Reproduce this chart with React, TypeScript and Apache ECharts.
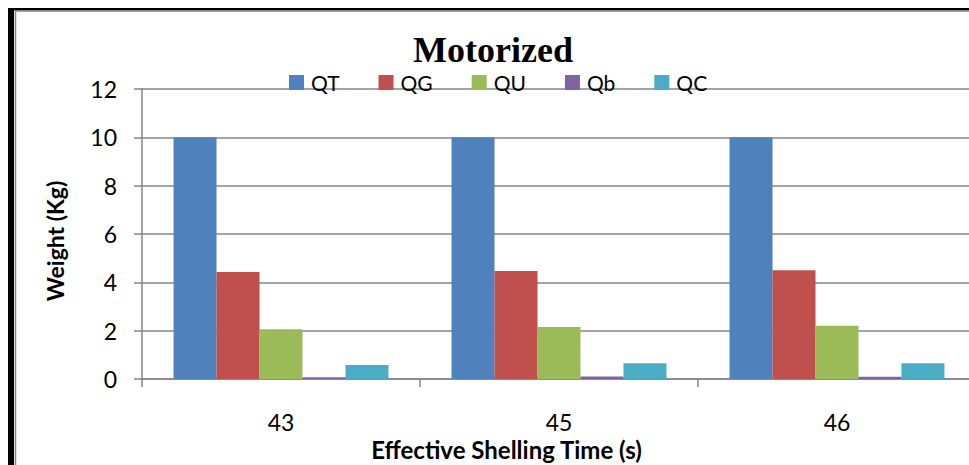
import React, { useEffect, useRef } from "react";
import * as echarts from "echarts";

const categories = ["43", "45", "46"];
const seriesNames = ["QT", "QG", "QU", "Qb", "QC"];
const qtValues = [10, 10, 10];
const qgValues = [4.43, 4.47, 4.5];
const quValues = [2.06, 2.15, 2.2];
const qbValues = [0.07, 0.1, 0.09];
const qcValues = [0.58, 0.65, 0.65];
const colors = ["#4F81BD", "#C0504D", "#9BBB59", "#8064A2", "#4BACC6"];
const yTicks = { min: 0, max: 12, interval: 2 };

const FONT = "Lato, 'Open Sans', sans-serif";

export default function App() {
  const ref = useRef<HTMLDivElement>(null);
  useEffect(() => {
    if (!ref.current) return;
    const chart = echarts.init(ref.current, null, { renderer: "svg" });
    const allValues = [qtValues, qgValues, quValues, qbValues, qcValues];
    chart.setOption({
      animation: false,
      backgroundColor: "#ffffff",
      title: {
        text: "Motorized",
        left: 413,
        top: 32,
        padding: 0,
        textStyle: {
          fontFamily: "'Liberation Serif', 'Times New Roman', serif",
          fontWeight: "bold",
          fontSize: 36,
          color: "#000",
        },
      },
      legend: {
        data: seriesNames,
        left: 289,
        top: 72,
        padding: 0,
        itemWidth: 15,
        itemHeight: 15,
        itemGap: 39,
        icon: "rect",
        textStyle: { fontFamily: FONT, fontSize: 21, color: "#000", padding: [0, 0, 0, 2] },
      },
      grid: {
        left: 142,
        width: 834,
        top: 89,
        height: 290,
        containLabel: false,
        outerBoundsMode: "none",
      },
      xAxis: {
        type: "category",
        data: categories,
        name: "Effective Shelling Time (s)",
        nameLocation: "middle",
        nameGap: 69,
        nameTextStyle: {
          fontFamily: FONT,
          fontWeight: "bold",
          fontSize: 24,
          color: "#000",
          verticalAlign: "middle",
          padding: [0, 105, 0, 0],
        },
        axisLine: { show: true, lineStyle: { color: "#868686", width: 1.5 } },
        axisTick: { show: true, length: 8, alignWithLabel: false, lineStyle: { color: "#868686", width: 1.5 } },
        axisLabel: { fontFamily: FONT, fontSize: 23, color: "#000", margin: 31 },
        splitLine: { show: false },
      },
      yAxis: {
        type: "value",
        min: yTicks.min,
        max: yTicks.max,
        interval: yTicks.interval,
        name: "Weight (Kg)",
        nameLocation: "middle",
        nameGap: 87,
        nameRotate: 90,
        nameTextStyle: {
          fontFamily: FONT,
          fontWeight: "bold",
          fontSize: 23,
          color: "#000",
          verticalAlign: "middle",
          padding: [0, 14, 0, 0],
        },
        axisLine: { show: true, lineStyle: { color: "#868686", width: 1.5 } },
        axisTick: { show: true, length: 8, lineStyle: { color: "#868686", width: 1.5 } },
        axisLabel: { fontFamily: FONT, fontSize: 23, color: "#000", margin: 25 },
        splitLine: { show: true, lineStyle: { color: "#868686", width: 1.5 } },
      },
      series: seriesNames.map((name, i) => ({
        name,
        type: "bar",
        data: allValues[i],
        barGap: "0%",
        barCategoryGap: "22.7%",
        itemStyle: { color: colors[i] },
      })),
      graphic: [
        { type: "rect", shape: { x: 8, y: 8, width: 6, height: 470 }, style: { fill: "#000" }, silent: true },
        { type: "rect", shape: { x: 8, y: 8, width: 970, height: 2.5 }, style: { fill: "#000" }, silent: true },
        { type: "line", shape: { x1: 15.5, y1: 11, x2: 15.5, y2: 470 }, style: { stroke: "#868686", lineWidth: 1.5 }, silent: true },
        { type: "line", shape: { x1: 15, y1: 11, x2: 975, y2: 11 }, style: { stroke: "#868686", lineWidth: 1.5 }, silent: true },
      ],
    });
    return () => chart.dispose();
  }, []);
  return (
    <div
      ref={ref}
      style={{ position: "absolute", left: 0, top: 0, width: 969, height: 465 }}
    />
  );
}
